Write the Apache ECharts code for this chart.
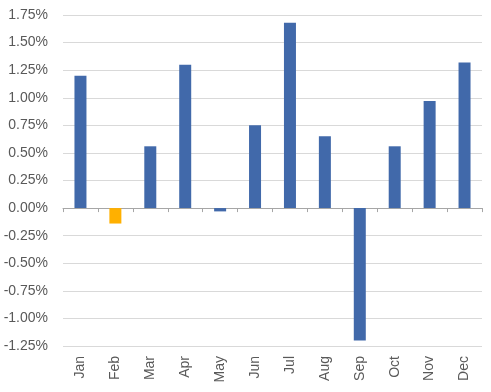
<!DOCTYPE html>
<html>
<head>
<meta charset="utf-8">
<script src="https://cdn.jsdelivr.net/npm/echarts@6/dist/echarts.min.js"></script>
<style>
html,body{margin:0;padding:0;background:#fff;}
#chart{width:491px;height:392px;}
</style>
</head>
<body>
<div id="chart"></div>
<script>
const categories = ['Jan','Feb','Mar','Apr','May','Jun','Jul','Aug','Sep','Oct','Nov','Dec'];
const values = [1.20, -0.14, 0.56, 1.30, -0.03, 0.75, 1.68, 0.65, -1.20, 0.56, 0.97, 1.32];
const barColors = ['#4169AA','#FFB000','#4169AA','#4169AA','#4169AA','#4169AA','#4169AA','#4169AA','#4169AA','#4169AA','#4169AA','#4169AA'];

const chart = echarts.init(document.getElementById('chart'), null, {renderer:'canvas'});
const font = '"Liberation Sans", Arial, sans-serif';
chart.setOption({
  animation: false,
  grid: {left: 63, right: 9, top: 15, bottom: 46, containLabel: false},
  xAxis: [
    {
      type: 'category', data: categories, position: 'bottom',
      axisLine: {show: true, onZero: true, lineStyle: {color: '#a6a6a6', width: 1}},
      axisTick: {show: true, length: 4, lineStyle: {color: '#a6a6a6'}},
      axisLabel: {show: false},
      splitLine: {show: false}
    },
    {
      type: 'category', data: categories, position: 'bottom',
      axisLine: {show: false, onZero: false},
      axisTick: {show: false},
      axisLabel: {show: true, rotate: 90, margin: 10, color: '#595959', fontSize: 14, fontFamily: font},
      splitLine: {show: false}
    }
  ],
  yAxis: {
    type: 'value', min: -1.25, max: 1.75, interval: 0.25,
    axisLine: {show: false}, axisTick: {show: false},
    axisLabel: {color: '#595959', fontSize: 14, fontFamily: font, margin: 15,
      formatter: v => v.toFixed(2) + '%'},
    splitLine: {lineStyle: {color: '#d9d9d9', width: 1}}
  },
  series: [{
    type: 'bar', xAxisIndex: 0,
    data: values.map((v, i) => ({value: v, itemStyle: {color: barColors[i]}})),
    barWidth: 12
  }]
});
</script>
</body>
</html>
